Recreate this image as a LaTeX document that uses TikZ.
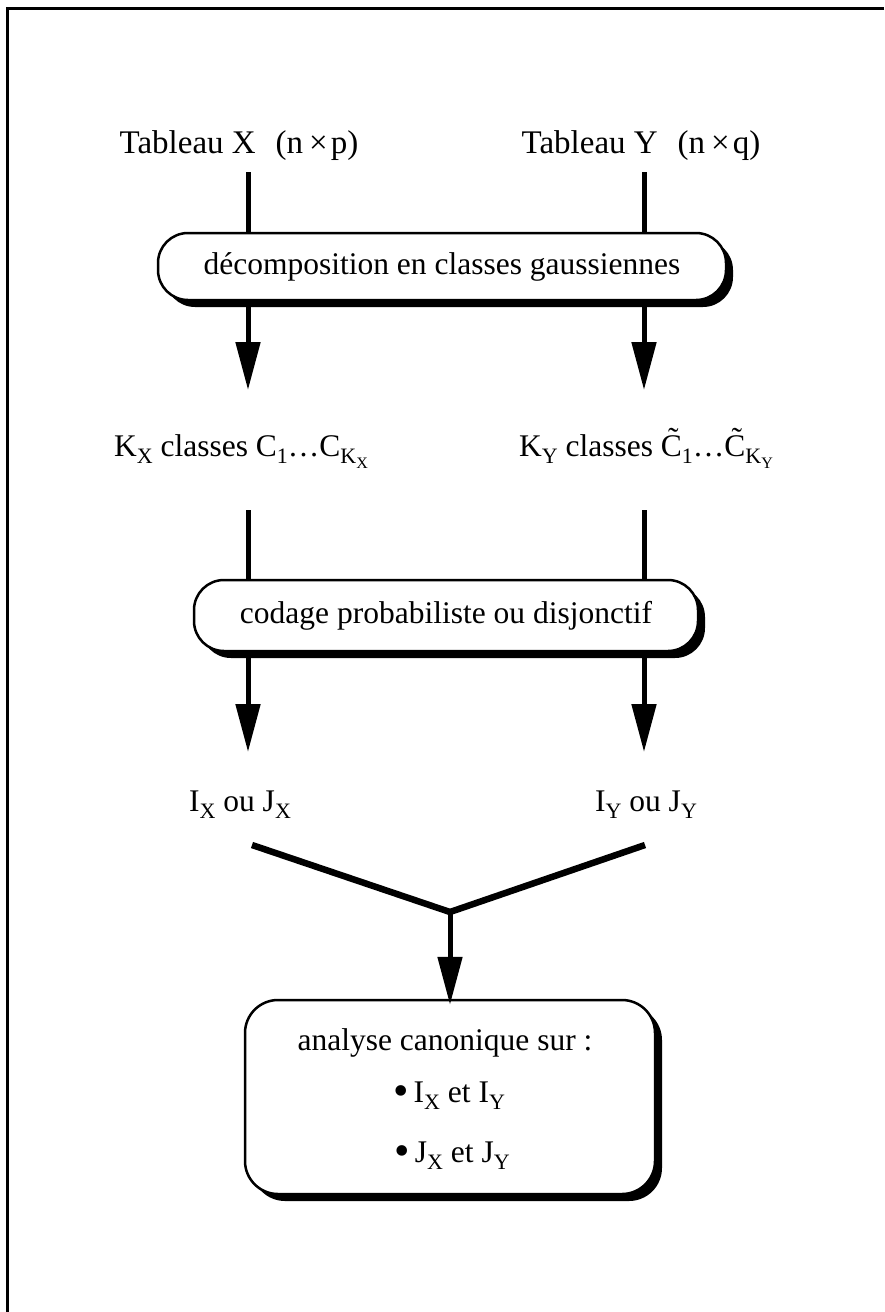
\documentclass[tikz,border=0pt]{standalone}
\usepackage{fontspec}
\usepackage{graphicx}
\setmainfont{Liberation Serif}
\usetikzlibrary{arrows.meta,shadows}
\newcommand\sbX[1]{\raisebox{-0.25em}{\fontsize{22}{22}\selectfont #1}}
\newcommand\sbY[1]{\raisebox{-0.22em}{\fontsize{16}{16}\selectfont #1}}
\newcommand\bigbul{\raisebox{-3pt}{\scalebox{1.4}{•}}}
\begin{document}
\begin{tikzpicture}[x=1pt,y=-1pt,
  lbl/.style={font=\fontsize{31.5}{38}\selectfont, inner sep=0pt},
  boxnode/.style={draw, line width=2.5pt, rounded corners=30pt, fill=white,
    font=\fontsize{31.5}{38}\selectfont, inner sep=0pt,
    general shadow={fill=black, shadow xshift=7pt, shadow yshift=-7pt}},
  conn/.style={line width=5pt},
  arr/.style={conn, -{Triangle[length=48pt,width=24pt]}},
  vline/.style={line width=6.5pt, line join=bevel}]
\useasboundingbox (0,0) rectangle (884,1312);
\draw[line width=3pt] (884,8) -- (7,8) -- (7,1312);

% top labels
\node[lbl, font=\fontsize{33}{40}\selectfont, anchor=base] (tX) at (239,153) {Tableau X\hspace{20pt}(n\hspace{6pt}×\hspace{3pt}p)};
\node[lbl, font=\fontsize{33}{40}\selectfont, anchor=base] (tY) at (641,153) {Tableau Y\hspace{20pt}(n\hspace{6pt}×\hspace{3pt}q)};
\coordinate (cL1) at (248,172);
\coordinate (cR1) at (644,172);

% box 1
\node[boxnode, minimum width=568pt, minimum height=67pt] (b1) at (442,266.5) {décomposition en classes gaussiennes};
\draw[conn] (cL1) -- (cL1 |- b1.north);
\draw[conn] (cR1) -- (cR1 |- b1.north);
\coordinate (cL2) at (248,390);
\coordinate (cR2) at (644,390);
\draw[arr] (cL2 |- b1.south) -- (cL2);
\draw[arr] (cR2 |- b1.south) -- (cR2);

% K labels
\node[lbl, anchor=base] (kX) at (241,456) {K\sbX{X} classes C\sbX{1}…C\sbX{K\sbY{X}}};
\node[lbl, anchor=base] (kY) at (646,456) {K\sbX{Y} classes \~C\sbX{1}…\~C\sbX{K\sbY{Y}}};
\coordinate (cL3) at (248,510);
\coordinate (cR3) at (644,510);

% box 2
\node[boxnode, minimum width=504pt, minimum height=71pt] (b2) at (446,615.5) {codage probabiliste ou disjonctif};
\draw[conn] (cL3) -- (cL3 |- b2.north);
\draw[conn] (cR3) -- (cR3 |- b2.north);
\coordinate (cL4) at (248,752);
\coordinate (cR4) at (644,752);
\draw[arr] (cL4 |- b2.south) -- (cL4);
\draw[arr] (cR4 |- b2.south) -- (cR4);

% I / J labels
\node[lbl, anchor=base] (iX) at (240,811) {I\sbX{X} ou J\sbX{X}};
\node[lbl, anchor=base] (iY) at (646,811) {I\sbX{Y} ou J\sbX{Y}};

% V junction
\coordinate (vL) at (252,845);
\coordinate (vR) at (645,845);
\coordinate (vA) at (450,912);
\draw[vline] (vL) -- (vA) -- (vR);

% box 3
\node[boxnode, rounded corners=33pt, minimum width=410pt, minimum height=194pt] (b3) at (450,1097) {};
\draw[arr] (vA) -- ([yshift=-6pt]b3.north);
\node[lbl, anchor=base] (a1) at (445,1050) {analyse canonique sur :};
\node[lbl, anchor=base] (a2) at (449,1102) {\bigbul\,I\sbX{X} et I\sbX{Y}};
\node[lbl, anchor=base] (a3) at (452,1162) {\bigbul\,J\sbX{X} et J\sbX{Y}};
\end{tikzpicture}
\end{document}
